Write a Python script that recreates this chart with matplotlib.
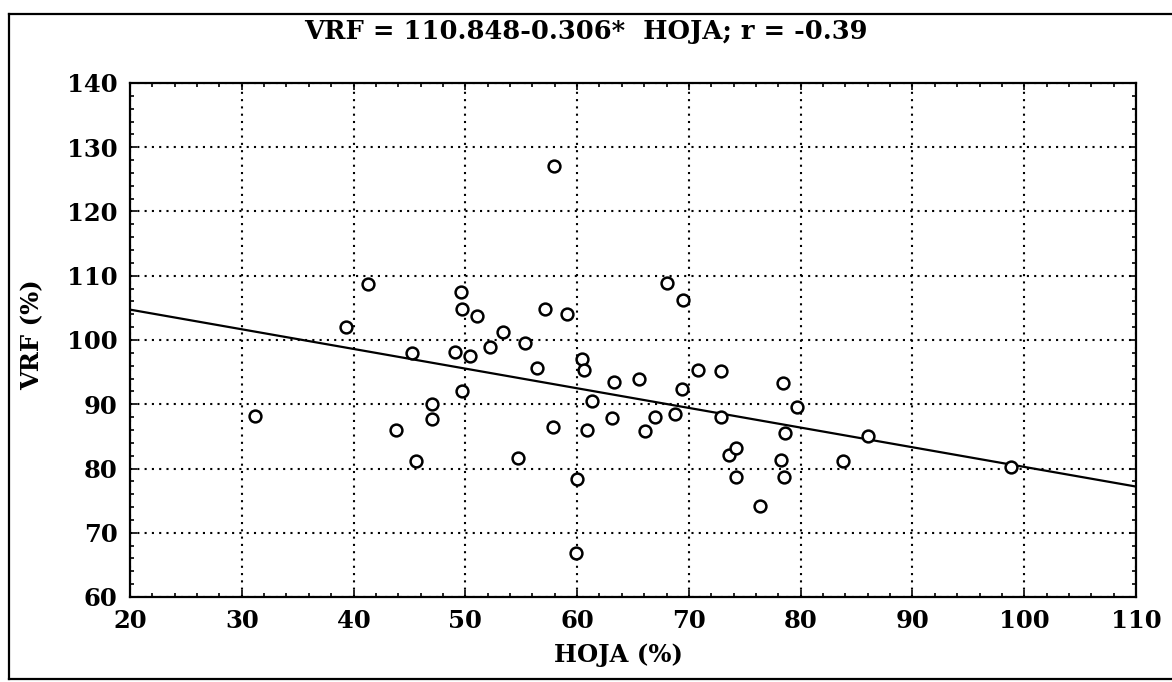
import numpy as np
import matplotlib
matplotlib.use('Agg')
import matplotlib.pyplot as plt
from matplotlib.lines import Line2D
from matplotlib.ticker import MultipleLocator

plt.rcParams.update({
    'font.family': 'serif',
    'font.serif': ['DejaVu Serif', 'Liberation Serif'],
    'font.weight': 'bold',
})

# Data (HOJA %, VRF %)
hoja = [31.2, 39.3, 41.3, 43.8, 45.2, 45.6, 47.0, 47.0, 49.1, 49.6,
        49.7, 49.7, 50.4, 51.0, 52.2, 53.4, 54.7, 55.3, 56.4, 57.1,
        57.8, 57.9, 59.1, 59.9, 60.0, 60.4, 60.6, 60.9, 61.3, 63.1,
        63.3, 65.5, 66.1, 67.0, 68.0, 68.8, 69.4, 69.5, 70.8, 72.9,
        72.9, 73.6, 74.2, 74.2, 76.4, 78.2, 78.4, 78.6, 78.5, 79.7,
        83.8, 86.0, 98.8]
vrf = [88.1, 102.0, 108.7, 86.0, 97.9, 81.1, 90.1, 87.7, 98.1, 107.4,
       104.9, 92.0, 97.5, 103.7, 98.9, 101.3, 81.6, 99.6, 95.6, 104.9,
       86.4, 127.1, 104.1, 66.8, 78.3, 97.1, 95.4, 86.0, 90.5, 87.9,
       93.4, 93.9, 85.9, 88.0, 108.9, 88.5, 92.3, 106.3, 95.3, 95.1,
       88.0, 82.1, 83.2, 78.7, 74.1, 81.4, 93.3, 85.6, 78.7, 89.6,
       81.2, 85.0, 80.3]

intercept = 110.848
slope = -0.306
r_value = -0.39

fig = plt.figure(figsize=(11.72, 6.82), dpi=100)
ax = fig.add_axes([130 / 1172, 1 - 597 / 682, 1006 / 1172, 514 / 682])

ax.plot(hoja, vrf, linestyle='none', marker='o', markersize=8.5,
        markerfacecolor='white', markeredgecolor='black', markeredgewidth=1.8, zorder=3)

xl = np.array([20, 110])
ax.plot(xl, intercept + slope * xl, color='black', linewidth=1.6, zorder=2)

ax.set_xlim(20, 110)
ax.set_ylim(60, 140)
ax.xaxis.set_major_locator(MultipleLocator(10))
ax.yaxis.set_major_locator(MultipleLocator(10))
ax.xaxis.set_minor_locator(MultipleLocator(2))
ax.yaxis.set_minor_locator(MultipleLocator(2))
ax.grid(True, which='major', color='black', linestyle=(0, (1, 2.5)), linewidth=1.5)
ax.tick_params(which='both', direction='in', top=True, right=True, width=1.2)
ax.tick_params(which='major', length=5, labelsize=17.5, pad=9)
ax.tick_params(which='minor', length=3)
for s in ax.spines.values():
    s.set_linewidth(1.6)
for lab in ax.get_xticklabels() + ax.get_yticklabels():
    lab.set_fontweight('bold')

fig.text(0.5, 1 - 31 / 682, f'VRF = {intercept:.3f}{slope:.3f}*  HOJA; r = {r_value:.2f}',
         ha='center', va='center', fontsize=18.5, fontweight='bold')
fig.text(618 / 1172, 1 - 655 / 682, 'HOJA (%)', ha='center', va='center',
         fontsize=17.5, fontweight='bold')
fig.text(32 / 1172, 1 - 335 / 682, 'VRF (%)', ha='center', va='center',
         rotation=90, fontsize=17.5, fontweight='bold')

# outer frame of the scanned figure
fig.add_artist(Line2D([9 / 1172, 9 / 1172], [1 - 679 / 682, 1 - 14 / 682],
                      transform=fig.transFigure, color='black', linewidth=1.6))
fig.add_artist(Line2D([9 / 1172, 1], [1 - 14 / 682, 1 - 14 / 682],
                      transform=fig.transFigure, color='black', linewidth=1.6))
fig.add_artist(Line2D([9 / 1172, 1], [1 - 679 / 682, 1 - 679 / 682],
                      transform=fig.transFigure, color='black', linewidth=1.6))

fig.savefig('out.png', dpi=100)
